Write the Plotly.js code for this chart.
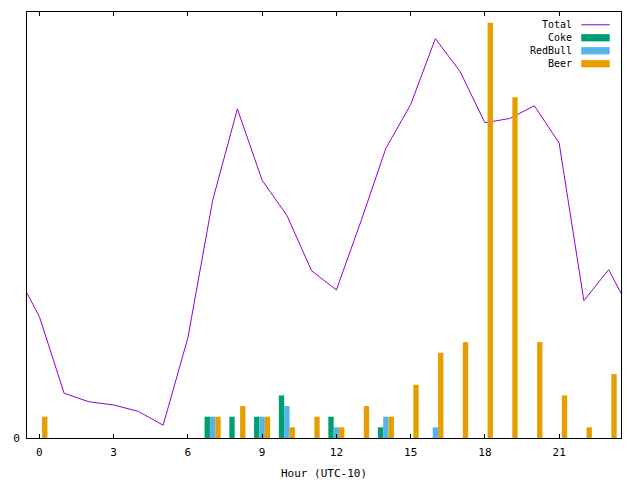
<!DOCTYPE html>
<html>
<head>
<meta charset="utf-8">
<script src="https://cdn.plot.ly/plotly-3.0.1.min.js"></script>
<style>
  html, body { margin: 0; padding: 0; background: #fff; }
  #plot { width: 640px; height: 480px; }
</style>
</head>
<body>
<div id="plot"></div>
<script>
// datos por hora (UTC-10)
const hours = [0, 1, 2, 3, 4, 5, 6, 7, 8, 9, 10, 11, 12, 13, 14, 15, 16, 17, 18, 19, 20, 21, 22, 23];
const coke    = [0, 0, 0, 0, 0, 0, 0, 2, 2, 2, 4, 0, 2, 0, 1, 0, 0, 0, 0, 0, 0, 0, 0, 0];
const redbull = [0, 0, 0, 0, 0, 0, 0, 2, 0, 2, 3, 0, 1, 0, 2, 0, 1, 0, 0, 0, 0, 0, 0, 0];
const beer    = [2, 0, 0, 0, 0, 0, 0, 2, 3, 2, 1, 2, 1, 3, 2, 5, 8, 9, 39, 32, 9, 4, 1, 6];
const total   = [11.4, 4.2, 3.4, 3.1, 2.5, 1.2, 9.4, 22.3, 30.9, 24.2, 20.9, 15.7,
                 13.9, 20.4, 27.2, 31.3, 37.5, 34.4, 29.6, 30.0, 31.2, 27.7, 12.9, 15.8];
const xTicks = [0, 3, 6, 9, 12, 15, 18, 21];

const colors = { total: '#9400d3', coke: '#009e73', redbull: '#56b4e9', beer: '#e69f00' };
const FONT = 'DejaVu Sans Mono, monospace';

// la linea da la vuelta al dia: 23h antes de 0h y 0h despues de 23h
const totalX = [hours[0] - 1, ...hours, hours[hours.length - 1] + 1];
const totalY = [total[total.length - 1], ...total, total[0]];

const totalTrace = {
  type: 'scatter', mode: 'lines', name: 'Total',
  x: totalX, y: totalY,
  line: { color: colors.total, width: 1 },
  xaxis: 'x', yaxis: 'y', hoverinfo: 'skip'
};

function barTrace(name, values, color) {
  return {
    type: 'bar', name: name, x: hours, y: values,
    marker: { color: color, line: { width: 0 } },
    xaxis: 'x', yaxis: 'y2', hoverinfo: 'skip'
  };
}

const traces = [
  totalTrace,
  barTrace('Coke', coke, colors.coke),
  barTrace('RedBull', redbull, colors.redbull),
  barTrace('Beer', beer, colors.beer)
];

// leyenda al estilo gnuplot: texto a la izquierda, muestra a la derecha
const legendItems = [
  { name: 'Total', color: colors.total, kind: 'line' },
  { name: 'Coke', color: colors.coke, kind: 'box' },
  { name: 'RedBull', color: colors.redbull, kind: 'box' },
  { name: 'Beer', color: colors.beer, kind: 'box' }
];
const legTop = 0.97, legStep = 0.0305;
const annotations = legendItems.map((it, i) => ({
  xref: 'paper', yref: 'paper', x: 0.921, y: legTop - i * legStep,
  xanchor: 'right', yanchor: 'middle', showarrow: false,
  text: it.name, font: { family: FONT, size: 10, color: '#000' }
}));
const shapes = legendItems.map((it, i) => {
  const yc = legTop - i * legStep;
  if (it.kind === 'line') {
    return { type: 'line', xref: 'paper', yref: 'paper', x0: 0.933, x1: 0.981, y0: yc, y1: yc,
             line: { color: it.color, width: 1 } };
  }
  return { type: 'rect', xref: 'paper', yref: 'paper', x0: 0.933, x1: 0.981,
           y0: yc - 0.0085, y1: yc + 0.0085, fillcolor: it.color, line: { width: 0 } };
});

const axisCommon = {
  showgrid: false, zeroline: false,
  showline: true, linecolor: '#000', linewidth: 1, mirror: 'ticks',
  ticks: 'inside', ticklen: 4, tickcolor: '#000', tickwidth: 1,
  tickfont: { family: FONT, size: 11, color: '#000' }
};

const layout = {
  width: 640, height: 480,
  margin: { l: 27, r: 19, t: 12, b: 42 },
  paper_bgcolor: '#fff', plot_bgcolor: '#fff',
  showlegend: false,
  barmode: 'group', bargap: 0.35, bargroupgap: 0,
  xaxis: Object.assign({}, axisCommon, {
    range: [-0.5, 23.5], tickvals: xTicks, ticktext: xTicks.map(String),
    ticklabelstandoff: 4,
    title: { text: 'Hour (UTC-10)', font: { family: FONT, size: 11, color: '#000' }, standoff: 11 }
  }),
  yaxis: Object.assign({}, axisCommon, {
    range: [0, 40], tickvals: [0], ticktext: ['0'], ticklen: 0, ticklabelstandoff: 4
  }),
  yaxis2: { overlaying: 'y', range: [0, 40], visible: false, showgrid: false, zeroline: false },
  annotations: annotations,
  shapes: shapes
};

Plotly.newPlot('plot', traces, layout, { staticPlot: true, displayModeBar: false });
</script>
</body>
</html>
